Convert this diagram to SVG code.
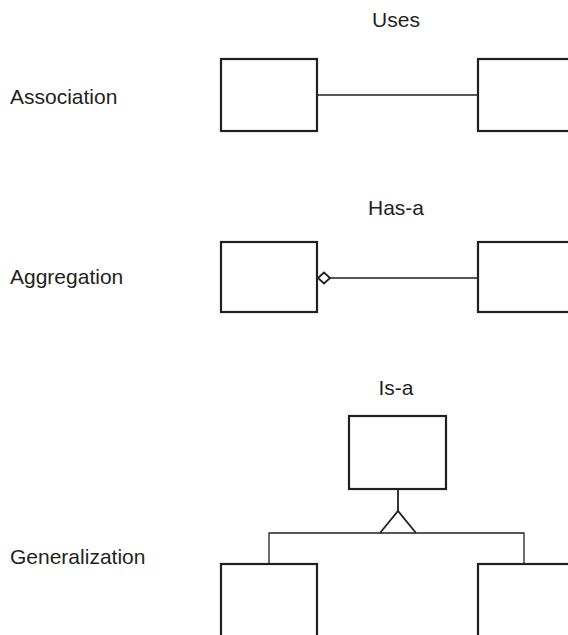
<svg xmlns="http://www.w3.org/2000/svg" width="568" height="635" viewBox="0 0 568 635">
<style>
.box{fill:#fff;stroke:#231f20;stroke-width:2.2}
.ln{fill:none;stroke:#231f20;stroke-width:1.3}
.lbl{font-family:"Liberation Sans",Arial,sans-serif;font-size:21px;fill:#231f20}
</style>
<rect width="568" height="635" fill="#fff"/>
<g id="labels">
<text class="lbl" x="10" y="104">Association</text>
<text class="lbl" x="10" y="284">Aggregation</text>
<text class="lbl" x="10" y="564">Generalization</text>
<text class="lbl" x="396" y="27" text-anchor="middle">Uses</text>
<text class="lbl" x="396" y="215" text-anchor="middle">Has-a</text>
<text class="lbl" x="396" y="395" text-anchor="middle">Is-a</text>
</g>
<g id="connectors">
<line class="ln" x1="318" y1="95" x2="478" y2="95"/>
<line class="ln" x1="330" y1="278" x2="478" y2="278"/>
<path class="ln" d="M318,278 L324,272.5 L330,278 L324,283.5 Z" style="stroke-width:1.8"/>
<line class="ln" x1="398" y1="489" x2="398" y2="511" style="stroke-width:1.8"/>
<path class="ln" d="M380,533 L398,511 L416,533" style="stroke-width:1.8"/>
<path class="ln" d="M269,564 L269,533 L524,533 L524,564"/>
</g>
<g id="assoc-left"><rect class="box" x="221" y="59" width="96" height="72"/></g>
<g id="assoc-right"><rect class="box" x="478" y="59" width="100" height="72"/></g>
<g id="aggr-left"><rect class="box" x="221" y="242" width="96" height="70"/></g>
<g id="aggr-right"><rect class="box" x="478" y="242" width="100" height="70"/></g>
<g id="gen-parent"><rect class="box" x="349" y="416" width="97" height="73"/></g>
<g id="gen-left"><rect class="box" x="221" y="564" width="96" height="80"/></g>
<g id="gen-right"><rect class="box" x="478" y="564" width="100" height="80"/></g>
</svg>
